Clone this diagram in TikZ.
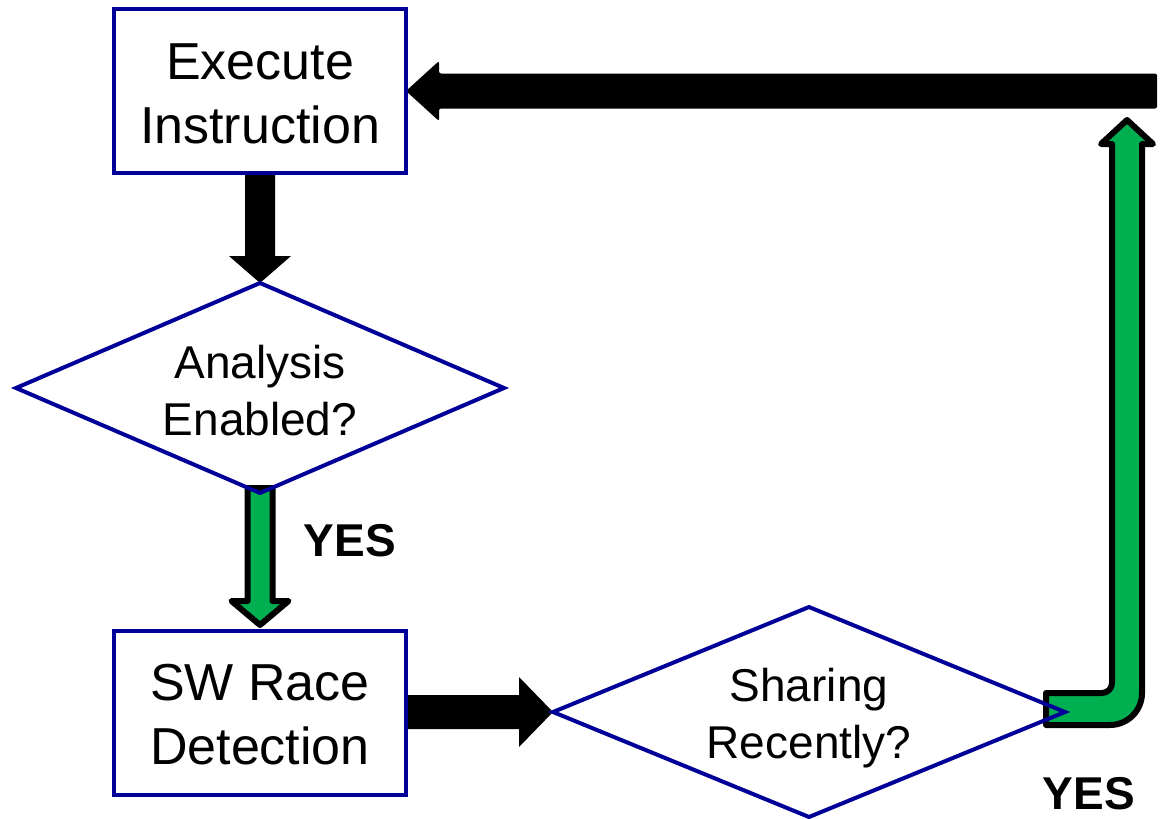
\documentclass[tikz,border=0pt]{standalone}
\usepackage{fontspec}
\setmainfont{Liberation Sans}
\usetikzlibrary{shapes.geometric,calc,backgrounds}
\definecolor{nodeblue}{RGB}{0,0,153}
\definecolor{arrowgreen}{RGB}{0,176,80}
\begin{document}
\begin{tikzpicture}[x=1pt,y=-1pt,
  boxnode/.style={draw=nodeblue,line width=4pt,rectangle,minimum width=292pt,minimum height=164pt,inner sep=0pt,outer sep=0pt},
  decnode/.style={draw=nodeblue,line width=4pt,diamond,aspect=2.4,inner sep=0pt,outer sep=0pt},
  txt/.style={align=center,inner sep=0pt},
  boxfont/.style={font=\fontsize{52}{64}\selectfont},
  decfont/.style={font=\fontsize{46}{57}\selectfont},
  labelnode/.style={font=\bfseries\fontsize{46}{50}\selectfont,inner sep=0pt},
  blackarrow/.style={fill=black},
  greenarrow/.style={fill=arrowgreen,draw=black,line width=6pt,line join=round}]
\useasboundingbox (0,0) rectangle (1163,819);

\node[boxnode] (exec) at (260,91) {};
\node[txt,boxfont] (exectext) at ($(exec.center)+(0,3)$) {Execute\\Instruction};
\node[decnode,minimum width=488pt,minimum height=210pt] (analysis) at (260,388) {};
\node[txt,decfont] (analysistext) at ($(analysis.center)+(0,3)$) {Analysis\\Enabled?};
\node[boxnode] (sw) at (260,713) {};
\node[txt,boxfont] (swtext) at ($(sw.center)+(0,2)$) {SW Race\\Detection};
\node[decnode,minimum width=512pt,minimum height=210pt] (sharing) at (809,712) {};
\node[txt,decfont] (sharingtext) at ($(sharing.center)+(0,6)$) {Sharing\\Recently?};
\node[labelnode] (yes1) at (350,541) {YES};
\node[labelnode] (yes2) at (1089,794) {YES};
\coordinate (ret) at (1157,91);
\coordinate (gtip) at (1127,120);
\coordinate (gcorner) at (gtip |- sharing.east);

\begin{pgfonlayer}{background}
% Execute -> Analysis
\fill[blackarrow] ($(exec.south)+(-15,0)$) -- ($(analysis.north)+(-15,-27)$) -- ($(analysis.north)+(-31,-27)$)
  -- (analysis.north) -- ($(analysis.north)+(31,-27)$) -- ($(analysis.north)+(15,-27)$) -- ($(exec.south)+(15,0)$) -- cycle;
% Analysis -> SW (YES)
\draw[greenarrow] ($(analysis.south)+(-12.5,-5)$) -- ($(sw.north)+(-12.5,-30)$) -- ($(sw.north)+(-28.5,-30)$)
  -- ($(sw.north)+(0,-6)$) -- ($(sw.north)+(28.5,-30)$) -- ($(sw.north)+(12.5,-30)$) -- ($(analysis.south)+(12.5,-5)$) -- cycle;
% SW -> Sharing
\fill[blackarrow] ($(sw.east |- sharing.west)+(0,-17)$) -- ($(sharing.west)+(-34,-17)$) -- ($(sharing.west)+(-34,-35)$)
  -- (sharing.west) -- ($(sharing.west)+(-34,35)$) -- ($(sharing.west)+(-34,17)$) -- ($(sw.east |- sharing.west)+(0,17)$) -- cycle;
% Sharing -> loop (YES)
\draw[greenarrow] ($(sharing.east)+(-19,-19)$) -- ($(gcorner)+(-25,-19)$) arc[start angle=90,end angle=0,radius=10]
  -- ($(gtip)+(-15,24)$) -- ($(gtip)+(-26,24)$) -- (gtip) -- ($(gtip)+(26,24)$) -- ($(gtip)+(15,24)$)
  -- ($(gcorner)+(15,-19)$) arc[start angle=0,end angle=90,radius=32] -- ($(sharing.east)+(-19,13)$) -- cycle;
% loop -> Execute
\fill[blackarrow,rounded corners=2pt] ($(ret)+(0,-17.5)$) -- ($(exec.east)+(33,-17.5)$) -- ($(exec.east)+(33,-30)$)
  -- (exec.east) -- ($(exec.east)+(33,30)$) -- ($(exec.east)+(33,17.5)$) -- ($(ret)+(0,17.5)$) -- cycle;
\end{pgfonlayer}
\end{tikzpicture}
\end{document}
